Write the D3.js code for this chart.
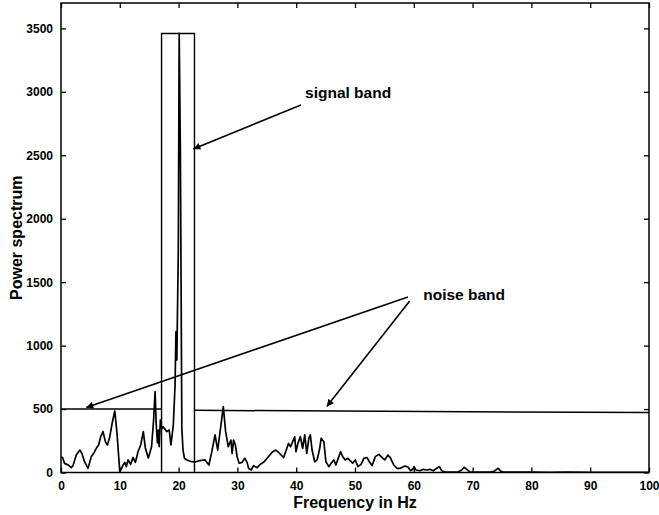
<!DOCTYPE html>
<html>
<head>
<meta charset="utf-8">
<script src="https://cdn.jsdelivr.net/npm/d3@7"></script>
<style>
  body { margin: 0; background: #fff; }
  text { font-family: "Liberation Sans", Arial, Helvetica, sans-serif; font-weight: bold; fill: #000; }
</style>
</head>
<body>
<svg id="chart" width="659" height="515"></svg>
<script>
// Power spectrum samples (frequency in Hz, power)
const freqHz = [
  0, 0.3, 0.6, 1.2, 1.75, 2.05, 2.6, 3.2, 3.55, 4.0, 4.6, 5.15, 5.6, 6.0, 6.4, 6.75, 7.15, 7.55, 7.9, 8.3,
  8.7, 9.15, 9.5, 10.0, 10.55, 10.85, 11.1, 11.4, 11.85, 12.25, 12.65, 13.1, 13.55, 14.0, 14.35, 14.85, 15.4, 15.75, 16.0, 16.2,
  16.4, 16.55, 16.7, 16.9, 17.15, 17.4, 18.0, 18.4, 18.7, 19.1, 19.4, 19.55, 19.7, 19.95, 20.1, 20.3, 20.55, 20.75, 21.0, 21.4,
  22.2, 22.8, 23.35, 24.5, 25.15, 25.65, 26.2, 26.65, 27.2, 27.6, 28.0, 28.45, 28.9, 29.1, 29.35, 29.65, 29.95, 30.3, 30.8, 31.25,
  31.65, 31.9, 32.35, 32.75, 33.35, 33.9, 34.45, 35.05, 35.6, 36.0, 36.55, 37.0, 37.45, 37.85, 38.25, 38.7, 39.05, 39.4, 39.75, 39.95,
  40.3, 40.7, 41.1, 41.45, 41.8, 42.15, 42.4, 42.7, 43.15, 43.55, 43.95, 44.25, 44.7, 45.05, 45.55, 45.95, 46.4, 46.75, 47.25, 47.55,
  47.9, 48.35, 48.8, 49.2, 49.6, 50.05, 50.5, 51.05, 51.5, 52.05, 52.45, 52.9, 53.45, 54.05, 54.45, 55.05, 55.6, 56.0, 56.6, 57.15,
  57.7, 58.5, 59.05, 59.45, 59.8, 60.05, 60.35, 61.05, 61.6, 62.2, 62.75, 63.3, 63.9, 64.35, 64.75, 65.3, 66.15, 67.0, 67.55, 68.15,
  68.55, 69.0, 69.55, 70.4, 71.25, 72.1, 72.95, 73.65, 74.1, 74.35, 74.8, 75.2, 77, 80, 83, 86, 90, 93, 96, 100
];
const power = [
  125, 115, 72, 60, 38, 55, 138, 177, 151, 85, 33, 125, 154, 191, 217, 282, 322, 243, 217, 282,
  388, 485, 322, 5, 59, 80, 46, 99, 65, 117, 80, 164, 217, 322, 191, 114, 203, 414, 637, 374,
  233, 335, 203, 414, 348, 361, 322, 335, 217, 374, 690, 1110, 887, 1754, 3460, 2542, 348, 177, 112, 99,
  85, 83, 91, 99, 59, 164, 296, 177, 374, 519, 322, 203, 256, 151, 256, 217, 125, 73, 80, 112,
  80, 33, 20, 54, 38, 65, 80, 112, 143, 164, 177, 159, 138, 117, 169, 230, 203, 243, 282, 164,
  230, 282, 191, 296, 151, 270, 296, 177, 85, 99, 177, 270, 243, 85, 46, 73, 99, 59, 125, 164,
  125, 99, 112, 91, 73, 99, 46, 65, 112, 117, 85, 54, 125, 143, 125, 99, 138, 117, 59, 33,
  33, 51, 41, 14, 25, 46, 20, 14, 25, 20, 25, 14, 33, 46, 14, 4, 4, 4, 5, 20,
  41, 25, 5, 4, 4, 4, 4, 10, 25, 33, 10, 4, 3, 3, 2, 3, 2, 2, 2, 2
];

const xTicks = [0, 10, 20, 30, 40, 50, 60, 70, 80, 90, 100];
const yTicks = [0, 500, 1000, 1500, 2000, 2500, 3000, 3500];

// Band markers
const signalBand = [17.1, 22.7];   // Hz
const signalTop = 3460;            // power
const noiseLeft = [[0, 500], [17.1, 500]];
const noiseRight = [[22.7, 490], [100, 472]];

// Annotations: label, label anchor, arrow segments [from, to]
const signalLabel = { text: "signal band", at: [41.5, 2948] };
const signalArrows = [[[40.8, 2897], [22.5, 2550]]];
const noiseLabel = { text: "noise band", at: [61.6, 1360] };
const noiseArrows = [
  [[59.0, 1383], [4.3, 512]],
  [[59.3, 1352], [45.2, 520]]
];

const svg = d3.select("#chart");
const margin = { left: 61, right: 10, top: 3, bottom: 42.5 };
const W = 659, H = 515;
const x = d3.scaleLinear().domain([0, 100]).range([margin.left, W - margin.right]);
const y = d3.scaleLinear().domain([0, 3700]).range([H - margin.bottom, margin.top]);

// arrowhead marker
svg.append("defs").append("marker")
  .attr("id", "head")
  .attr("viewBox", "0 0 10 10")
  .attr("refX", 10).attr("refY", 5)
  .attr("markerUnits", "userSpaceOnUse")
  .attr("markerWidth", 10).attr("markerHeight", 7)
  .attr("orient", "auto")
  .append("path").attr("d", "M0,0 L10,5 L0,10 Z").attr("fill", "#000");

// spectrum line
const line = d3.line().x((d, i) => x(freqHz[i])).y((d, i) => y(power[i]));
svg.append("path")
  .datum(power)
  .attr("d", line)
  .attr("fill", "none")
  .attr("stroke", "#000")
  .attr("stroke-width", 1.7)
  .attr("stroke-linejoin", "round");

// signal band box
const bandPts = [[signalBand[0], 0], [signalBand[0], signalTop], [signalBand[1], signalTop], [signalBand[1], 0]];
svg.append("path")
  .attr("d", d3.line().x(d => x(d[0])).y(d => y(d[1]))(bandPts))
  .attr("fill", "none").attr("stroke", "#000").attr("stroke-width", 1.4);

// noise band levels
[noiseLeft, noiseRight].forEach(seg => {
  svg.append("path")
    .attr("d", d3.line().x(d => x(d[0])).y(d => y(d[1]))(seg))
    .attr("fill", "none").attr("stroke", "#000").attr("stroke-width", 1.5);
});

// axes with inward ticks
const axisStyle = g => {
  g.select(".domain").remove();
  g.selectAll("line").attr("stroke", "#000").attr("stroke-width", 1.3);
  g.selectAll("text").attr("font-size", 12).attr("font-weight", "bold")
    .attr("font-family", "Liberation Sans, Arial, sans-serif");
};
svg.append("g").attr("transform", `translate(0,${y(0)})`)
  .call(d3.axisBottom(x).tickValues(xTicks).tickSize(-5).tickPadding(9).tickFormat(d3.format("d")))
  .call(axisStyle);
svg.append("g").attr("transform", `translate(0,${margin.top})`)
  .call(d3.axisTop(x).tickValues(xTicks).tickSize(-5).tickFormat(""))
  .call(axisStyle);
svg.append("g").attr("transform", `translate(${margin.left},0)`)
  .call(d3.axisLeft(y).tickValues(yTicks).tickSize(-5).tickPadding(8).tickFormat(d3.format("d")))
  .call(axisStyle);
svg.append("g").attr("transform", `translate(${W - margin.right},0)`)
  .call(d3.axisRight(y).tickValues(yTicks).tickSize(-5).tickFormat(""))
  .call(axisStyle);

// frame
svg.append("rect")
  .attr("x", margin.left).attr("y", margin.top)
  .attr("width", W - margin.right - margin.left)
  .attr("height", y(0) - margin.top)
  .attr("fill", "none").attr("stroke", "#000").attr("stroke-width", 1.5);

// axis titles
svg.append("text")
  .attr("x", (x.range()[0] + x.range()[1]) / 2).attr("y", 508)
  .attr("text-anchor", "middle").attr("font-size", 16)
  .text("Frequency in Hz");
svg.append("text")
  .attr("transform", `translate(22,${(y.range()[0] + y.range()[1]) / 2}) rotate(-90)`)
  .attr("text-anchor", "middle").attr("font-size", 16)
  .text("Power spectrum");

// annotations
function drawArrows(list) {
  list.forEach(([a, b]) => {
    svg.append("line")
      .attr("x1", x(a[0])).attr("y1", y(a[1]))
      .attr("x2", x(b[0])).attr("y2", y(b[1]))
      .attr("stroke", "#000").attr("stroke-width", 1.6)
      .attr("marker-end", "url(#head)");
  });
}
drawArrows(signalArrows);
drawArrows(noiseArrows);
[signalLabel, noiseLabel].forEach(l => {
  svg.append("text").attr("x", x(l.at[0])).attr("y", y(l.at[1]))
    .attr("font-size", 15.5).text(l.text);
});
</script>
</body>
</html>
